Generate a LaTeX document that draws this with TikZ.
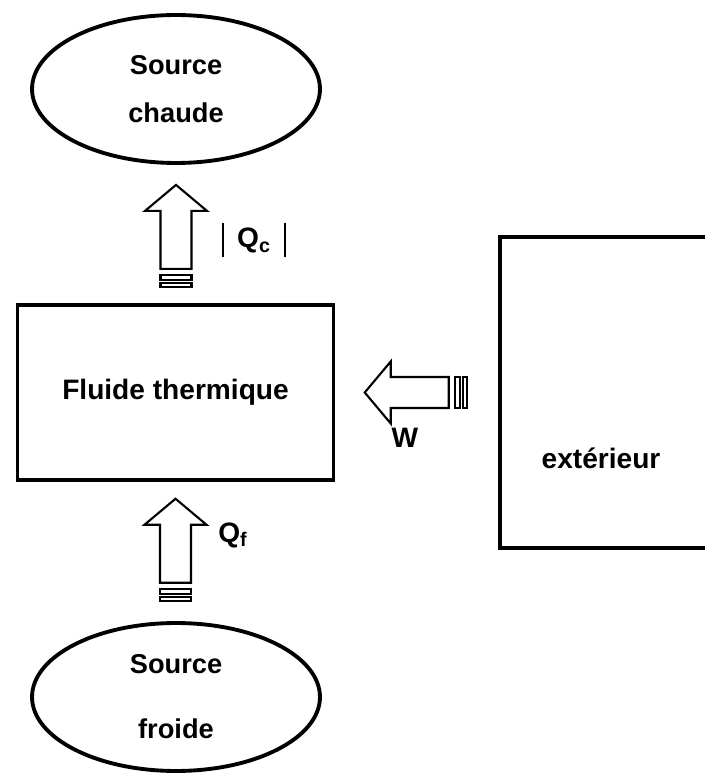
\documentclass[tikz,border=0pt]{standalone}
\usepackage{fontspec}
\setmainfont{Liberation Sans}
\usepackage{tikz}
\usetikzlibrary{shapes.geometric}

\tikzset{
  thick box/.style={draw,line width=2pt,inner sep=0pt},
  source/.style={thick box,ellipse,line width=2.2pt,minimum width=5.76cm,minimum height=2.96cm,align=center},
  lbl/.style={font=\fontsize{16pt}{19pt}\selectfont\bfseries,inner sep=0pt},
  arrowline/.style={draw,line width=1.2pt,fill=white,line join=miter},
  stripedarrow/.pic={
    \path[arrowline] (0,0) -- (31,26) -- (15.5,26) -- (15.5,84) -- (-15.5,84) -- (-15.5,26) -- (-31,26) -- cycle;
    \path[arrowline] (-15.5,90) rectangle (15.5,95);
    \path[arrowline] (-15.5,98) rectangle (15.5,102);
  }
}
\newcommand{\vbar}{\rule[-5pt]{0.9pt}{19pt}}

\begin{document}
\begin{tikzpicture}[x=0.02cm,y=-0.02cm]
  \clip (0,0) rectangle (705,780);

  \node[source,font=\fontsize{15.5pt}{27pt}\selectfont\bfseries] (chaude) at (176,89) {Source\\chaude};
  \node[source,font=\fontsize{15.5pt}{37pt}\selectfont\bfseries] (froide) at (176,697) {Source\\froide};
  \node[thick box,minimum width=6.32cm,minimum height=3.5cm,lbl] (fluide) at (175.5,392.5) {Fluide thermique};
  \node[thick box,minimum width=5.2cm,minimum height=6.22cm] (ext) at (630,392.5) {};
  \node[lbl] (extlbl) at (601,458) {extérieur};

  \path (chaude.south) ++(0,20) pic {stripedarrow};
  \path (fluide.south) ++(0,17) pic {stripedarrow};
  \path (fluide.east) ++(29.5,0) pic[rotate=90] {stripedarrow};

  \node[lbl] (qc) at (254,240) {\vbar\hspace{7.5pt}Q\textsubscript{c}\hspace{7.5pt}\vbar};
  \node[lbl] (qf) at (233,535) {Q\textsubscript{f}};
  \node[lbl] (w) at (405,438) {W};
\end{tikzpicture}
\end{document}
